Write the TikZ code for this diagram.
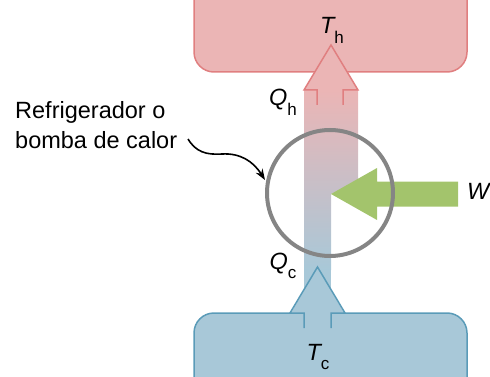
\documentclass[tikz,border=0pt]{standalone}
\usepackage{fontspec}
\setmainfont{Liberation Sans}
\usetikzlibrary{arrows.meta}
\definecolor{hotfill}{HTML}{EBB5B5}
\definecolor{hotline}{HTML}{E07F80}
\definecolor{coldfill}{HTML}{A8C8D8}
\definecolor{coldline}{HTML}{5A9BB8}
\definecolor{workgreen}{HTML}{A3C46C}
\definecolor{ringgray}{HTML}{858585}
\newcommand\qlab[2]{{\itshape #1}\raisebox{-0.4em}{\fontsize{17}{17}\selectfont #2}}
\begin{document}
\begin{tikzpicture}[x=1pt,y=-1pt,
  lab/.style={inner sep=0pt, font=\fontsize{23.5}{30}\selectfont},
  hotbox/.style={fill=hotfill, draw=hotline, line width=1.5pt, rounded corners=20pt},
  coldbox/.style={fill=coldfill, draw=coldline, line width=1.5pt, rounded corners=20pt},
  hotarrow/.style={draw=hotline, line width=1.5pt, line join=miter},
  coldarrow/.style={draw=coldline, line width=1.5pt, line join=miter}]
\useasboundingbox (0,0) rectangle (490,377);
% reservoirs
\path[hotbox] (194,-10) -- (194,72) -- (467,72) -- (467,-10);
\path[coldbox] (194,390) -- (194,313) -- (467,313) -- (467,390);
% heat column
\shade[top color=hotfill, bottom color=coldfill] (304,270) -- (304,90) -- (358,90) -- (358,181) -- (331,194) -- (331,270) -- cycle;
\fill[coldfill] (304,269) rectangle (331,316);
% top arrow head
\fill[hotfill] (304,90) -- (331,45) -- (358,90) -- cycle;
\path[hotarrow] (317,105) -- (317,90) -- (304,90) -- (331,45) -- (358,90) -- (343,90) -- (343,105);
% bottom arrow head
\fill[coldfill] (290,314.5) -- (317.5,267) -- (345,314.5) -- cycle;
\path[coldarrow] (304,328) -- (304,313) -- (290,313) -- (317.5,267) -- (345,313) -- (331,313) -- (331,328);
% work arrow
\fill[workgreen] (331,194) -- (377,168) -- (377,181.5) -- (458,181.5) -- (458,206.5) -- (377,206.5) -- (377,220) -- cycle;
% device ring
\node[circle, draw=ringgray, line width=4pt, minimum size=126pt, inner sep=0pt] (ring) at (330,193) {};
% labels
\node[lab, anchor=base] (th) at (332,34) {\qlab{T}{h}};
\node[lab, anchor=base] (qh) at (283,106) {\qlab{Q}{h}};
\node[lab, anchor=base] (qc) at (283,269) {\qlab{Q}{c}};
\node[lab, anchor=base] (tc) at (318,360) {\qlab{T}{c}};
\node[lab, anchor=base west] (w) at (467,200) {\itshape W};
\node[lab, anchor=north west, align=left] (dev) at (15,101) {Refrigerador o\\bomba de calor};
% pointer
\coordinate (cstart) at (188,139);
\coordinate (ctip) at (265,180);
\draw[line width=1.6pt, -{Stealth[length=11pt,width=8pt]}] (cstart) .. controls (196,152) and (206,155) .. (222,154) .. controls (240,153) and (253,161) .. (ctip);
\end{tikzpicture}
\end{document}
